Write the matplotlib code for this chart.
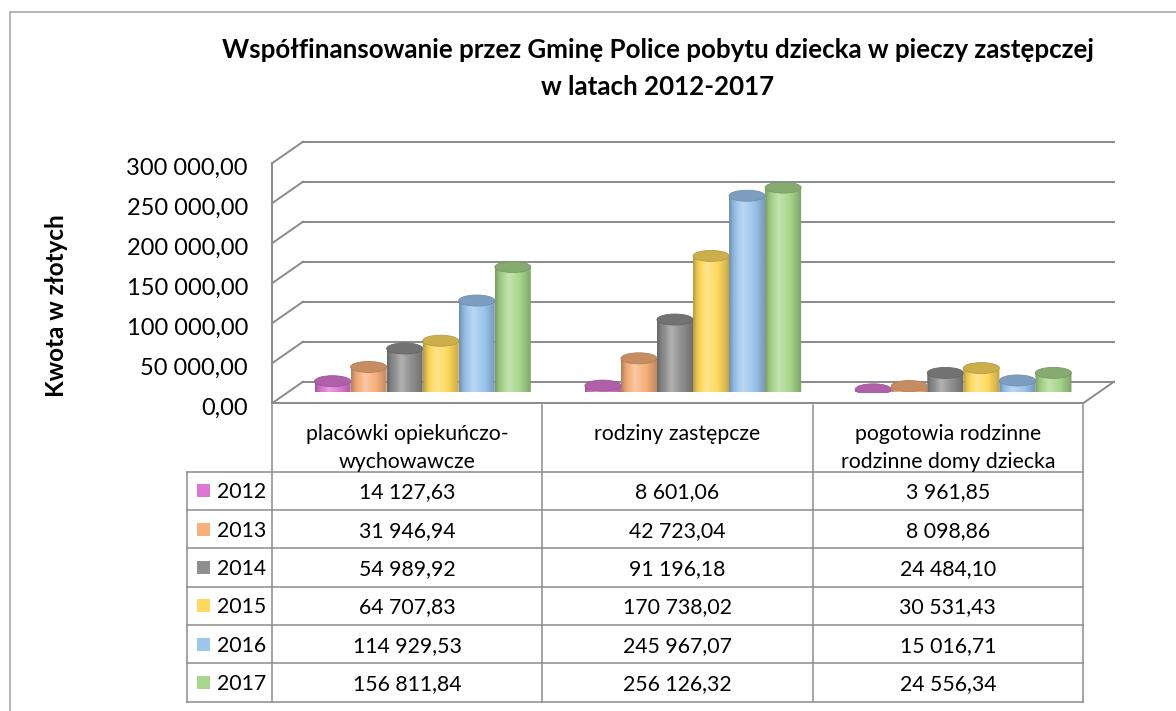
import numpy as np
import matplotlib.pyplot as plt
from matplotlib.patches import Ellipse, PathPatch, Rectangle
from matplotlib.path import Path
from matplotlib.lines import Line2D
from matplotlib.colors import to_rgb

plt.rcParams['font.family'] = ['Lato', 'DejaVu Sans']

# data
categories = [['placówki opiekuńczo-', 'wychowawcze'],
              ['rodziny zastępcze'],
              ['pogotowia rodzinne', 'rodzinne domy dziecka']]
years = ['2012', '2013', '2014', '2015', '2016', '2017']
v2012 = [14127.63, 8601.06, 3961.85]
v2013 = [31946.94, 42723.04, 8098.86]
v2014 = [54989.92, 91196.18, 24484.10]
v2015 = [64707.83, 170738.02, 30531.43]
v2016 = [114929.53, 245967.07, 15016.71]
v2017 = [156811.84, 256126.32, 24556.34]
values = [v2012, v2013, v2014, v2015, v2016, v2017]
yticks = [0, 50000, 100000, 150000, 200000, 250000, 300000]

colors = ['#dc78d3', '#f7b07c', '#8f8f8f', '#ffd95e', '#9cc6ee', '#a8d68c']
grid_c = '#8a8a8a'

title1 = 'Współfinansowanie przez Gminę Police pobytu dziecka w pieczy zastępczej'
title2 = 'w latach 2012-2017'
ylabel = 'Kwota w złotych'


def pl(v):
    return f'{v:,.2f}'.replace(',', ' ').replace('.', ',')


W, H = 1176, 711
fig = plt.figure(figsize=(W / 100, H / 100), dpi=100)

# main plot (middle depth plane)
ax = fig.add_axes([287.5 / W, (H - 392.5) / H, 811 / W, 240 / H])
ax.set_xlim(0, 3)
ax.set_ylim(0, 300000)
ax.axis('off')
px_x = 811 / 3
px_y = 240 / 300000
DX = 15.5 / px_x
DY = 10.8 / px_y

# walls and floor
for v in yticks:
    ax.plot([DX, 3 + DX], [v + DY, v + DY], color=grid_c, lw=1.4, zorder=1, clip_on=False)
    ax.plot([-DX, DX], [v - DY, v + DY], color=grid_c, lw=1.4, zorder=1, clip_on=False)
    ax.text(-DX - 24 / px_x, v - DY - 11.5 / px_y, pl(v), ha='right', va='baseline',
            fontsize=17, color='black')
ax.plot([-DX, -DX], [-DY, 300000 - DY], color=grid_c, lw=1.4, zorder=1, clip_on=False)
ax.plot([-DX, 3 - DX], [-DY, -DY], color=grid_c, lw=1.4, zorder=1, clip_on=False)
ax.plot([3 - DX, 3 + DX], [-DY, DY], color=grid_c, lw=1.4, zorder=1, clip_on=False)

# cylinders
bw = 0.8 / 6
a = bw / 2
b = 5.5 / px_y
t = np.linspace(0, 1, 80)
shade = np.interp(t, [0, 0.12, 0.38, 0.7, 0.92, 1], [0.72, 0.92, 1.14, 0.98, 0.82, 0.74])


def shaded(base, s):
    base = np.array(to_rgb(base))
    if s <= 1:
        return base * s
    return base + (1 - base) * (s - 1) * 2.2


for i, vals in enumerate(values):
    for k, val in enumerate(vals):
        xc = k + 0.5 + (i - 2.5) * bw
        th = np.linspace(np.pi, 2 * np.pi, 40)
        verts = [(xc - a, val), (xc - a, 0)]
        verts += list(zip(xc + a * np.cos(th), b * np.sin(th)))
        verts += [(xc + a, val), (xc - a, val), (xc - a, val)]
        path = Path(np.array(verts), closed=True)
        clip = PathPatch(path, transform=ax.transData, fc='none', ec='none')
        img = np.array([[shaded(colors[i], s) for s in shade]])
        img = np.clip(img, 0, 1)
        im = ax.imshow(img, extent=[xc - a, xc + a, -b, val], aspect='auto',
                       interpolation='bilinear', zorder=3 + i * 0.01)
        im.set_clip_path(clip)
        top = Ellipse((xc, val), 2 * a, 2 * b, fc=shaded(colors[i], 0.8),
                      ec=shaded(colors[i], 0.72), lw=0.6, zorder=3.5 + i * 0.01)
        ax.add_patch(top)
ax.set_xlim(0, 3)
ax.set_ylim(0, 300000)

# data table
row_px = 230 / 6
head = 66.7 / row_px
tx = fig.add_axes([187 / W, (H - 701.7) / H, 896 / W, 296.7 / H])
lc = -85 / px_x
tx.set_xlim(lc, 3)
tx.set_ylim(0, 6 + head)
tx.axis('off')
tc = '#8c8c8c'
for xk in range(4):
    tx.plot([xk, xk], [0, 6 + head], color=tc, lw=1.1, clip_on=False)
tx.plot([lc, lc], [0, 6], color=tc, lw=1.1, clip_on=False)
for r in range(7):
    tx.plot([lc, 3], [r, r], color=tc, lw=1.1, clip_on=False)

for k, lines in enumerate(categories):
    for j, line in enumerate(lines):
        yy = 6 + head - (27 + 28 * j) / row_px
        tx.text(k + 0.5, yy - 7.5 / row_px, line, ha='center', va='baseline', fontsize=15.3)

sq = 13 / row_px
for i, vals in enumerate(values):
    yc = 5.5 - i
    tx.add_patch(Rectangle((lc + 10 / px_x, yc - sq / 2), 13 / px_x, sq,
                           color=colors[i], lw=0, clip_on=False))
    tx.text(lc + 30 / px_x, yc - 7.5 / row_px, years[i], ha='left', va='baseline', fontsize=15.3)
    for k, val in enumerate(vals):
        tx.text(k + 0.5, yc - 7.5 / row_px, pl(val), ha='center', va='baseline', fontsize=15.3)

# titles
fig.text(657.5 / W, 1 - 58 / H, title1, ha='center', va='baseline', fontsize=18.6, fontweight='bold')
fig.text(657.5 / W, 1 - 95 / H, title2, ha='center', va='baseline', fontsize=18.6, fontweight='bold')
fig.text(57 / W, 1 - 306 / H, ylabel, rotation=90, ha='center', va='center',
         fontsize=17.5, fontweight='bold')

# chart border
fig.add_artist(Line2D([10 / W, 10 / W], [0, 1 - 12 / H], color='#b3b3b3', lw=1.4))
fig.add_artist(Line2D([10 / W, 1], [1 - 12 / H, 1 - 12 / H], color='#b3b3b3', lw=1.4))

fig.savefig('out.png', dpi=100)
